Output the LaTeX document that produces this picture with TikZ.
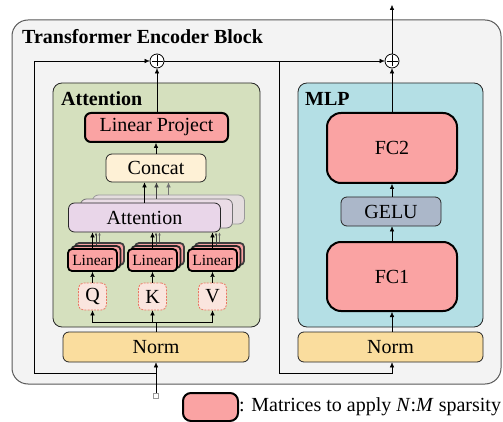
\documentclass[tikz,border=0pt]{standalone}
\usepackage{fontspec}
\setmainfont{Liberation Serif}
\usetikzlibrary{arrows.meta}

\definecolor{blockgray}{RGB}{243,243,243}
\definecolor{attgreen}{RGB}{213,224,190}
\definecolor{mlpcyan}{RGB}{180,223,229}
\definecolor{normorange}{RGB}{250,221,158}
\definecolor{sparsered}{RGB}{250,163,163}
\definecolor{concatcream}{RGB}{254,241,214}
\definecolor{attlilac}{RGB}{233,214,233}
\definecolor{attmid}{RGB}{234,220,230}
\definecolor{attback}{RGB}{228,221,222}
\definecolor{gelugray}{RGB}{171,183,201}
\definecolor{qkvpink}{RGB}{250,229,222}
\definecolor{qkvline}{RGB}{236,118,98}

\begin{document}
\begin{tikzpicture}[x=1pt,y=-1pt,
		font=\fontsize{20}{24}\selectfont,
		>={Latex[length=5pt,width=4.5pt]},
		box/.style={draw=black!85,line width=0.8pt,rounded corners=6pt,inner sep=0pt},
		sparse/.style={box,draw=black,line width=2pt,fill=sparsered},
		qkvbox/.style={box,draw=qkvline,dash pattern=on 2pt off 1.2pt,rounded corners=5pt,fill=qkvpink,minimum width=28pt,minimum height=27pt},
		linbox/.style={sparse,line width=1.8pt,rounded corners=4pt,minimum width=49pt,minimum height=22pt,font=\fontsize{15.5}{18}\selectfont},
		attbox/.style={box,fill=attlilac,minimum width=152pt,minimum height=29pt},
		adder/.style={draw,circle,fill=white,line width=0.8pt,minimum size=14pt,inner sep=0pt,
			path picture={\draw[line width=0.8pt] ([yshift=-1.5pt]path picture bounding box.north) -- ([yshift=1.5pt]path picture bounding box.south)
				([xshift=1.5pt]path picture bounding box.west) -- ([xshift=-1.5pt]path picture bounding box.east);}},
		heading/.style={anchor=base west,inner sep=0pt,font=\fontsize{20}{24}\selectfont\bfseries}
	]
	\useasboundingbox (0,0) rectangle (503,422);
	% ===== Encoder block background =====
	\draw[draw=black!65,line width=1pt,fill=blockgray,rounded corners=16pt] (12,20) rectangle (501,384);
	\node[heading] (title) at (22,44) {Transformer Encoder Block};
	% ===== Attention branch =====
	\draw[box,rounded corners=9pt,fill=attgreen] (53,83) rectangle (260,327);
	\node[heading] (atttitle) at (61,106) {Attention};
	\node[box,fill=normorange,minimum width=186pt,minimum height=30pt] (norm1) at (156,347) {Norm};
	\node[sparse,minimum width=143pt,minimum height=29pt] (linproj) at (156.5,127.5) {Linear Project};
	\node[box,fill=concatcream,minimum width=100pt,minimum height=28pt] (concat) at (156,168) {Concat};
	% heads, back to front
	\node[attbox,draw=black!40,fill=attback] (attC) at (168.5,209.5) {};
	\node[attbox,draw=black!55,fill=attmid] (attB) at (156.5,213.5) {};
	\node[attbox] (att) at (144.5,217.5) {Attention};
	\draw[->,black!55] (attC.north) -- (attC.north |- concat.south);
	\draw[->,black!75] (attB.north) -- (attB.north |- concat.south);
	\draw[->] (att.north) -- (att.north |- concat.south);
	\draw[->] (concat.north) -- (concat.north |- linproj.south);
	% Q, K, V projections
	\coordinate (split) at (156,322);
	\draw (norm1.north) -- (split);
	\foreach \x/\nm/\lab in {92.5/q/Q, 152.5/k/K, 212.5/v/V} {
		\node[linbox,draw=black!75] (linC\nm) at (\x+7,254) {};
		\node[linbox,draw=black!85] (linB\nm) at (\x+3.5,257) {};
		\node[linbox] (lin\nm) at (\x,260) {Linear};
		\node[qkvbox] (\nm) at (\x,296.5) {\lab};
		\draw[->,black!60,line width=0.5pt,>={Latex[length=3pt,width=2.5pt]}] (linC\nm.north) -- (linC\nm.north |- att.south);
		\draw[->,black!75,line width=0.5pt,>={Latex[length=3pt,width=2.5pt]}] (linB\nm.north) -- (linB\nm.north |- att.south);
		\draw[->] (lin\nm.north) -- (lin\nm.north |- att.south);
		\draw[->] (\nm.north) -- (lin\nm.south);
		\draw[->] (split) -| (\nm.south);
	}
	% ===== MLP branch =====
	\draw[box,rounded corners=9pt,fill=mlpcyan] (298,83) rectangle (483,327);
	\node[heading] (mlptitle) at (305,106) {MLP};
	\node[box,fill=normorange,minimum width=185pt,minimum height=30pt] (norm2) at (390.5,347) {Norm};
	\node[sparse,rounded corners=14pt,minimum width=130pt,minimum height=69pt] (fc1) at (392,276.5) {FC1};
	\node[box,fill=gelugray,minimum width=100pt,minimum height=29pt] (gelu) at (391,211.5) {GELU};
	\node[sparse,rounded corners=14pt,minimum width=130pt,minimum height=70pt] (fc2) at (392,148) {FC2};
	\draw[->] (norm2.north -| fc1) -- (fc1.south);
	\draw[->] (fc1.north) -- (fc1.north |- gelu.south);
	\draw[->] (gelu.north -| fc2) -- (fc2.south);
	% ===== Residual connections =====
	\node[draw=black!40,fill=white,line width=0.5pt,minimum size=5pt,inner sep=0pt] (input) at (156,395.5) {};
	\node[adder] (plus1) at (157,61) {};
	\node[adder] (plus2) at (392,61) {};
	\coordinate (skip1) at (156,373);
	\coordinate (fork) at (279,61);
	\coordinate (out) at (392,5);
	\draw[->] (input) -- (norm1);
	\draw[->] (skip1) -| (34,61) -- (plus1);
	\draw[->] (linproj.north -| plus1) -- (plus1);
	\draw (plus1) -- (fork);
	\draw[->] (fork) -- (plus2);
	\draw[->] (fork) |- (392,373) -- (norm2.south -| plus2);
	\draw[->] (fc2.north -| plus2) -- (plus2);
	\draw[->] (plus2) -- (out);
	% ===== Legend =====
	\node[sparse,rounded corners=8pt,minimum width=55pt,minimum height=28pt] (legend) at (210.5,407) {};
	\node[anchor=west,inner sep=0pt] (legendtext) at (legend.east) {: Matrices to apply \textit{N}:\textit{M} sparsity};
\end{tikzpicture}
\end{document}
